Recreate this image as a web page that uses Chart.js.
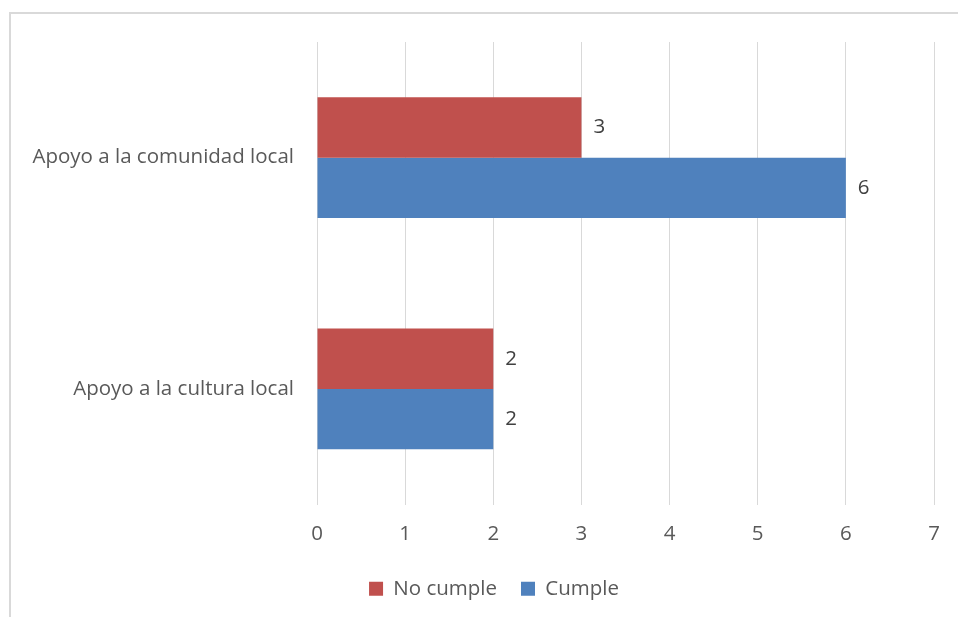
<!DOCTYPE html>
<html>
<head>
<meta charset="utf-8">
<script src="https://cdn.jsdelivr.net/npm/chart.js@4"></script>
<style>
  html, body { margin: 0; padding: 0; background: #fff; overflow: hidden; }
  #wrap { position: relative; width: 958px; height: 617px; }
  #frame { position: absolute; left: 9px; top: 12px; width: 960px; height: 620px;
           border-left: 2px solid #d9d9d9; border-top: 2px solid #d9d9d9; }
  canvas { position: absolute; left: 0; top: 0; }
</style>
</head>
<body>
<div id="wrap">
  <div id="frame"></div>
  <canvas id="chart" width="958" height="617"></canvas>
</div>
<script>
// categories, top to bottom
var categories = ["Apoyo a la comunidad local", "Apoyo a la cultura local"];
var seriesNames = ["No cumple", "Cumple"];
var noCumple = [3, 2];
var cumple = [6, 2];
var xTicks = [0, 1, 2, 3, 4, 5, 6, 7];

var fontFamily = "'Open Sans', sans-serif";
var fontSize = 20.5;

// writes the value just right of each bar
var valueLabels = {
    id: 'valueLabels',
    afterDatasetsDraw: function(chart) {
        const ctx = chart.ctx;
        ctx.save();
        ctx.font = fontSize + "px " + fontFamily;
        ctx.fillStyle = "#404040";
        ctx.textAlign = "left";
        ctx.textBaseline = "middle";
        chart.data.datasets.forEach(function(ds, i) {
            chart.getDatasetMeta(i).data.forEach(function(bar, j) {
                ctx.fillText(ds.data[j], bar.x + 12, bar.y);
            });
        });
        ctx.restore();
    }
};

// legend sits a bit right of the canvas centre, like the original
var legendShift = {
    id: 'legendShift',
    afterLayout: function(chart) {
        chart.legend.left += 27;
        chart.legend.right += 27;
    }
};

const ctx = document.getElementById('chart').getContext('2d');
new Chart(ctx, {
    type: 'bar',
    data: {
        labels: categories,
        datasets: [{
            label: seriesNames[0],
            data: noCumple,
            backgroundColor: '#c0504d',
            categoryPercentage: 0.522,
            barPercentage: 1.0
        }, {
            label: seriesNames[1],
            data: cumple,
            backgroundColor: '#4f81bd',
            categoryPercentage: 0.522,
            barPercentage: 1.0
        }]
    },
    options: {
        indexAxis: 'y',
        responsive: false,
        animation: false,
        layout: { padding: { top: 42, right: 24, left: 0, bottom: 8 } },
        plugins: {
            tooltip: { enabled: false },
            legend: {
                position: 'bottom',
                labels: {
                    boxWidth: 14,
                    boxHeight: 14,
                    padding: 24,
                    color: '#595959',
                    font: { family: fontFamily, size: fontSize }
                }
            }
        },
        scales: {
            x: {
                min: 0,
                max: 7,
                afterBuildTicks: function(scale) {
                    scale.ticks = xTicks.map(function(v) { return { value: v }; });
                },
                grid: { color: '#d9d9d9', lineWidth: 1, drawTicks: false },
                border: { display: false },
                ticks: {
                    color: '#595959',
                    padding: 17,
                    font: { family: fontFamily, size: fontSize }
                },
                afterFit: function(scale) { scale.height = 50; }
            },
            y: {
                grid: { display: false },
                border: { display: false },
                ticks: {
                    color: '#595959',
                    padding: 15,
                    font: { family: fontFamily, size: fontSize }
                },
                afterFit: function(scale) { scale.width = 317; }
            }
        }
    },
    plugins: [valueLabels, legendShift]
});
</script>
</body>
</html>
